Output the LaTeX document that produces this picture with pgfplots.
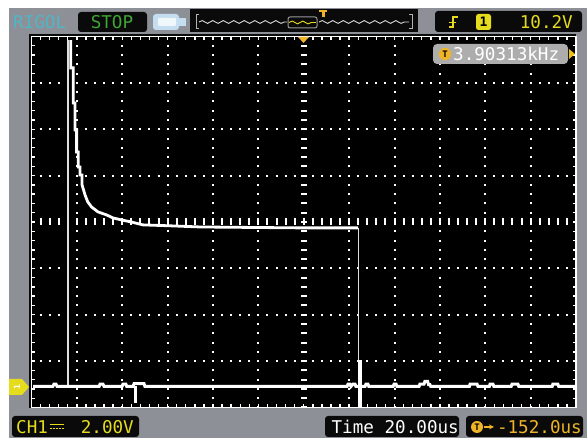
\documentclass[border=0pt]{standalone}
\usepackage{pgfplots}
\pgfplotsset{compat=1.18}
\usepackage{fontspec}
\setmonofont{DejaVu Sans Mono}
\usetikzlibrary{decorations.pathmorphing}
\definecolor{bezel}{HTML}{8E9097}
\definecolor{lcdyellow}{HTML}{E6DC1E}
\definecolor{trigorange}{HTML}{F0B428}
\definecolor{rigolcyan}{HTML}{4FB6C6}
\definecolor{stopgreen}{HTML}{3FA535}
\definecolor{battery}{HTML}{C4DDF0}
\definecolor{panel}{HTML}{0A0A0A}
\begin{document}
\begin{tikzpicture}[x=1pt,y=1pt]
\useasboundingbox (0,0) rectangle (587,438);
\fill[white] (0,0) rectangle (587,438);
\fill[bezel] (9,0) rectangle (587,430);
\fill[panel] (29,30) rectangle (576,404);
\begin{axis}[
  at={(31.5pt,30.5pt)},anchor=south west,scale only axis,
  width=544.5pt,height=371pt,
  xmin=-120,xmax=120,ymin=-0.9056,ymax=15.0944,
  axis background/.style={fill=black},
  axis line style={white,line width=1.8pt},
  xtick={-100,-80,-60,-40,-20,0,20,40,60,80,100},
  ytick={1.0944,3.0944,5.0944,7.0944,9.0944,11.0944,13.0944},
  minor xtick={-116,-112,...,116},
  minor ytick={-0.5056,-0.1056,...,15},
  xticklabels={},yticklabels={},
  tick align=inside,tick pos=both,
  major tick length=3.5pt,minor tick length=3.5pt,
  tick style={white,line width=1.4pt},
  minor tick style={white,line width=1.4pt},
  grid=major,
  x grid style={white,line width=2pt,dash pattern=on 2pt off 7.275pt,dash phase=1pt},
  y grid style={white,line width=2pt,dash pattern=on 2pt off 7.075pt,dash phase=1pt},
  clip=true,
]
% centre graticule
\draw[white,line width=7pt,dash pattern=on 2pt off 7.075pt,dash phase=1pt]
  (axis cs:-120,7.0944) -- (axis cs:120,7.0944);
\draw[white,line width=6pt,dash pattern=on 2pt off 7.275pt,dash phase=1pt]
  (axis cs:0,-0.9056) -- (axis cs:0,15.0944);
% thin edges
\addplot[draw=white!88!black,line width=1.2pt] coordinates {(-103.9,0)(-103.9,14.94)};
\addplot[draw=white!88!black,line width=1.4pt] coordinates {(24,6.84)(24,0)};
% decay trace
\addplot[draw=white,line width=2.8pt] coordinates {
(-102.7,14.94)(-102.7,13.74)(-101.6,13.74)(-101.6,12.23)(-100.8,12.23)(-100.8,11.06)
(-100.1,11.06)(-100.1,10.11)(-99.4,10.11)(-99.4,9.47)(-98.6,9.47)(-98.6,9.12)
(-97.7,9.12)(-97.7,8.69)(-96.4,8.26)(-95.2,7.96)(-93.5,7.74)(-90.7,7.53)
(-86.9,7.40)(-84.1,7.27)(-80.2,7.18)(-75.8,7.09)(-70.9,6.97)(-59,6.93)(-45.7,6.88)
(-23.7,6.86)(-1.7,6.84)(24,6.84)};
% ground trace
\addplot[draw=white,line width=3pt] coordinates {
(-119.3,0)(-110.6,0)(-110.1,0.1)(-109.2,0.1)(-108.7,0)(-90.2,0)(-89.8,0.1)(-88.5,0.1)(-88,0)
(-80.1,0)(-79.7,0.1)(-78.4,0.1)(-78,0)(-75.3,0)(-74.8,0.12)(-70.4,0.12)(-70,0)
(19.1,0)(19.5,0.1)(20.4,0.1)(20.8,0)(21.7,0.1)(22.6,0.1)(23,0)
(27,0)(27.4,0.1)(28.3,0.1)(28.7,0)(39.4,0)(39.8,0.1)(40.7,0.1)(41.1,0)
(50.8,0)(51.2,0.1)(53,0.1)(53.4,0.22)(54.6,0.22)(55,0.08)(55.6,0.08)(56,0)
(73,0)(73.3,0.1)(76.4,0.1)(76.8,0)(81.8,0)(82.1,0.1)(83.4,0.1)(83.8,0)
(91.4,0)(91.8,0.1)(94.4,0.1)(94.8,0)(109.5,0)(109.8,0.1)(112,0.1)(112.4,0)(119.6,0)};
% glitches
\addplot[draw=white,line width=2.6pt] coordinates {(-74.1,0)(-74.1,-0.71)};
\addplot[draw=white,line width=3.6pt] coordinates {(24.9,1.14)(24.9,-0.93)};
\end{axis}
\begin{scope}[shift={(0,438)},y=-1pt,x=1pt,font=\ttfamily\fontsize{17.6}{18}\selectfont]
% top bar
\node[rigolcyan,anchor=west,inner sep=0] at (13,22) {RIGOL};
\fill[panel,rounded corners=3pt] (78,12) rectangle (147,32);
\node[stopgreen,inner sep=0] at (112,22) {STOP};
\fill[battery,rounded corners=3pt] (153,14) rectangle (179,30);
\fill[battery] (179,18) rectangle (186,26);
\fill[white!75!battery,rounded corners=1pt] (158,18) rectangle (176,26);
% navigator
\fill[panel] (190,9) rectangle (418,32);
\draw[white!70!black,line width=1pt] (199,15)--(196,15)--(196,29)--(199,29);
\draw[white!70!black,line width=1pt] (409,15)--(412,15)--(412,29)--(409,29);
\draw[white!85!black,line width=0.9pt,decorate,decoration={snake,amplitude=1.4pt,segment length=10.5pt}] (199,22)--(287,22);
\draw[white!85!black,line width=0.9pt,decorate,decoration={snake,amplitude=1.4pt,segment length=10.5pt}] (319,22)--(409,22);
\draw[white!60!black,rounded corners=2pt,line width=1pt] (288,17) rectangle (317,28);
\draw[lcdyellow,line width=0.9pt,decorate,decoration={snake,amplitude=1.4pt,segment length=10.5pt}] (289,22.5)--(316,22.5);
\fill[trigorange] (319,10) rectangle (327,12);
\fill[trigorange] (322,10) rectangle (324.5,17);
% trigger panel
\fill[panel,rounded corners=3pt] (435,11) rectangle (582,32);
\draw[lcdyellow,line width=1.6pt] (449,27)--(453,27)--(453,17)--(458,17);
\draw[lcdyellow,line width=1.4pt] (449,22.5)--(456,22.5);
\fill[lcdyellow,rounded corners=2.5pt] (476,14) rectangle (491,30);
\node[black,inner sep=0,font=\ttfamily\bfseries\fontsize{13}{13}\selectfont] at (483.5,22) {1};
\node[lcdyellow,anchor=east,inner sep=0] at (573,22) {10.2V};
% trigger position marker
\fill[trigorange] (298,37)--(309,37)--(303.5,43)--cycle;
% frequency readout
\fill[white!68!black,rounded corners=4pt] (433,44) rectangle (568,64);
\fill[lcdyellow!70!orange] (569,49)--(575,54)--(569,59)--cycle;
\fill[trigorange] (445,54) circle (6.2);
\node[black,inner sep=0,font=\ttfamily\bfseries\fontsize{9}{9}\selectfont] at (445,54) {T};
\node[white,anchor=west,inner sep=0,font=\ttfamily\fontsize{17.6}{18}\selectfont] at (453,54) {3.90313kHz};
% ground marker
\fill[lcdyellow] (9,379)--(22,379)--(29,387)--(22,395)--(9,395)--cycle;
\node[white,inner sep=0,font=\ttfamily\bfseries\fontsize{8}{8}\selectfont,rotate=90] at (17,387) {1};
% bottom panels
\fill[panel,rounded corners=3pt] (12,416) rectangle (139,437);
\node[lcdyellow,anchor=west,inner sep=0] at (16,427) {CH1};
\draw[lcdyellow,line width=1pt] (50,425)--(64,425);
\draw[lcdyellow,line width=1pt,dash pattern=on 2pt off 1pt] (50,428.5)--(64,428.5);
\node[lcdyellow,anchor=east,inner sep=0] at (134,427) {2.00V};
\fill[panel,rounded corners=3pt] (325,416) rectangle (459,437);
\node[white,anchor=east,inner sep=0] at (459,427) {Time 20.00us};
\fill[panel,rounded corners=3pt] (466,416) rectangle (583,437);
\fill[trigorange] (477,427) circle (6);
\node[black,inner sep=0,font=\ttfamily\bfseries\fontsize{9}{9}\selectfont] at (477,427) {T};
\draw[trigorange,line width=1.2pt,->,>=stealth] (484,427)--(494,427);
\node[trigorange,anchor=east,inner sep=0] at (582,427) {-152.0us};
\end{scope}
\end{tikzpicture}
\end{document}
